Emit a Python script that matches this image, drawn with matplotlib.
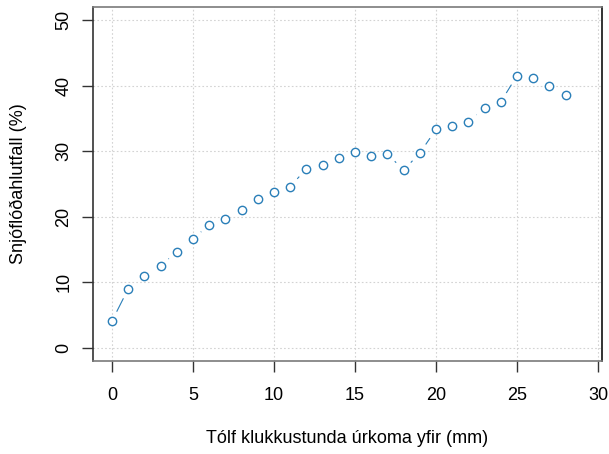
import matplotlib
matplotlib.use("Agg")
import matplotlib.pyplot as plt
import numpy as np

plt.rcParams['font.family'] = ['Liberation Sans', 'DejaVu Sans']

# urkoma (mm) og hlutfall snjoflooa (%)
urkoma = np.arange(0, 29)
hlutfall = [4.1, 9.0, 10.9, 12.5, 14.7, 16.6, 18.8, 19.7, 21.0, 22.7,
            23.8, 24.6, 27.3, 27.9, 28.9, 29.8, 29.2, 29.6, 27.1, 29.7,
            33.3, 33.9, 34.5, 36.6, 37.5, 41.5, 41.1, 40.0, 38.5]
xticks = [0, 5, 10, 15, 20, 25, 30]
yticks = [0, 10, 20, 30, 40, 50]

blue = '#2a7fb8'

fig = plt.figure(figsize=(6.09, 4.54), dpi=100)
ax = fig.add_axes([0.1527, 0.2055, 0.988 - 0.1527, 0.985 - 0.2055])
ax.set_xlim(-1.17, 30.23)
ax.set_ylim(-1.94, 52.0)

ax.set_xticks(xticks)
ax.set_yticks(yticks)
ax.grid(True, color='#d3d3d3', linestyle=(0, (1.5, 2)), linewidth=0.8)
ax.set_axisbelow(True)

# type="b" eins og i R: linur med bili vid punktana
fig.canvas.draw()
pts = ax.transData.transform(np.column_stack([urkoma, hlutfall]))
gap = 10.5
inv = ax.transData.inverted()
for i in range(len(pts) - 1):
    p0, p1 = pts[i], pts[i + 1]
    d = p1 - p0
    L = np.hypot(*d)
    if L <= 2 * gap:
        continue
    u = d / L
    a = inv.transform(p0 + u * gap)
    b = inv.transform(p1 - u * gap)
    ax.plot([a[0], b[0]], [a[1], b[1]], color=blue, linewidth=0.8,
            solid_capstyle='butt')

ax.plot(urkoma, hlutfall, linestyle='none', marker='o', markersize=6.0,
        markerfacecolor='white', markeredgecolor=blue, markeredgewidth=1.0)

for s in ['top', 'bottom']:
    ax.spines[s].set_color('#7a7a7a')
ax.spines['left'].set_color('#333333')
ax.spines['right'].set_color('#111111')
for s in ax.spines.values():
    s.set_linewidth(1.2)

ax.tick_params(axis='both', direction='out', length=8, width=1.0,
               color='#333333', labelsize=13, pad=11)
ax.tick_params(axis='y', pad=7)
for lab in ax.get_yticklabels():
    lab.set_rotation(90)
    lab.set_va('center')

ax.set_xlabel('Tólf klukkustunda úrkoma yfir (mm)', fontsize=13, labelpad=19)
ax.set_ylabel('Snjóflóðahlutfall (%)', fontsize=13, labelpad=20)

fig.savefig('out.png', dpi=100)
